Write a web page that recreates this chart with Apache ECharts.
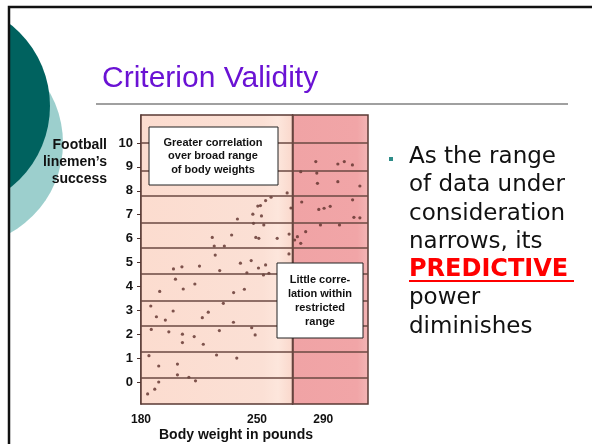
<!DOCTYPE html>
<html>
<head>
<meta charset="utf-8">
<script src="https://cdn.jsdelivr.net/npm/echarts@6/dist/echarts.min.js"></script>
<style>
html,body{margin:0;padding:0;background:#fff}
#main{width:592px;height:444px}
</style>
</head>
<body>
<div id="main"></div>
<script>
// body weight (lb) and linemen's success score
var weights = [
  184, 188.3, 190.7, 202, 208.9, 212.9, 190.7, 202, 184.8, 225.6, 237.8,
  186.2, 196.8, 205, 212.1, 205, 217.6, 227.3, 246.8, 248.9,
  185.9, 199.4, 220.6, 189.3, 194.7, 217, 235.8, 229.7,
  191.3, 205.5, 212.5, 235.9, 242.4, 200.8, 199.6, 204.7, 215.3, 227.5, 240, 243.9,
  224.8, 246.5, 224.2, 230.3, 223, 234.7, 238.2, 247.5, 250.5, 247.9, 249.3,
  252.1, 255.2, 258.5, 268.2, 270.5, 252.7, 254.1, 251.1, 262.2, 269.4, 269.3,
  255.2, 250.9, 253.9, 257.2,
  285.5, 298.8, 302.7, 307.6, 276.4, 286.1, 286.5, 298.8, 312.1, 277, 307.7,
  287.3, 290.5, 294.2, 308.5, 312.1, 288.3, 299.8, 279.4, 274.4, 276.4, 272.7
];
var success = [
  -0.5, -0.3, 0.0, 0.3, 0.2, 0.05, 0.67, 0.75, 1.1, 1.13, 1.0,
  2.2, 2.1, 2.0, 1.9, 1.65, 1.58, 2.15, 2.27, 1.97,
  3.18, 2.97, 2.92, 2.73, 2.59, 2.69, 2.5, 3.29,
  3.79, 3.89, 4.1, 3.74, 3.88, 4.3, 4.73, 4.82, 4.85, 4.66, 4.97, 4.57,
  5.31, 5.08, 5.69, 5.69, 6.05, 6.15, 6.82, 7.02, 7.36, 6.64, 6.05,
  7.38, 7.59, 7.73, 7.91, 7.28, 6.95, 6.57, 6.01, 6.01, 6.19, 5.36,
  4.9, 4.77, 4.48, 4.55,
  9.22, 9.12, 9.22, 9.08, 8.8, 8.74, 8.31, 8.38, 8.2, 7.53, 7.62,
  7.22, 7.27, 7.35, 6.89, 6.87, 6.57, 6.57, 6.29, 6.08, 5.8, 5.94
];
var yTicks = [0, 1, 2, 3, 4, 5, 6, 7, 8, 9, 10];
var xTicks = [180, 250, 290];
var bandLines = [10, 8.83, 7.78, 6.65, 5.61, 4.52, 3.39, 2.34, 1.26, 0.17];
var rangeCut = 271.5;
var bulletLines = ['As the range', 'of data under', 'consideration', 'narrows, its', 'PREDICTIVE', 'power', 'diminishes'];

var lab = '"Liberation Sans", Arial, sans-serif';
var pts = weights.map(function (w, i) { return [w, success[i]]; });

var lines = bandLines.map(function (v) { return { yAxis: v }; });
lines.push({ xAxis: rangeCut });

var graphics = [
  // slide decoration
  { type: 'circle', shape: { cx: -40, cy: 143, r: 103 }, style: { fill: '#9ccfcd' } },
  { type: 'circle', shape: { cx: -54, cy: 106, r: 104 }, style: { fill: '#00625f' } },
  { type: 'rect', shape: { x: 0, y: 0, width: 8, height: 444 }, style: { fill: '#fff' } },
  { type: 'rect', shape: { x: 0, y: 0, width: 592, height: 6 }, style: { fill: '#fff' } },
  { type: 'polyline', shape: { points: [[9, 444], [9, 7], [592, 7]] }, style: { stroke: '#111', lineWidth: 2.5, fill: null } },
  { type: 'text', x: 102, y: 79, style: { text: 'Criterion Validity', font: '30px ' + lab, fill: '#6a12d4', verticalAlign: 'middle' } },
  { type: 'line', shape: { x1: 96, y1: 104, x2: 568, y2: 104 }, style: { stroke: '#808080', lineWidth: 1.5 } },
  // axis titles
  { type: 'text', x: 107, y: 162, style: { text: 'Football\nlinemen\u2019s\nsuccess', font: 'bold 14px ' + lab, fill: '#111', align: 'right', verticalAlign: 'middle', lineHeight: 17 } },
  { type: 'text', x: 236, y: 435, style: { text: 'Body weight in pounds', font: 'bold 14px ' + lab, fill: '#111', align: 'center', verticalAlign: 'middle' } },
  // annotation boxes
  { type: 'rect', z: 100, shape: { x: 149, y: 127, width: 129, height: 58 }, style: { fill: '#fff', stroke: '#222', lineWidth: 1 } },
  { type: 'text', z: 101, x: 213, y: 156, style: { text: 'Greater correlation\nover broad range\nof body weights', font: 'bold 11px ' + lab, fill: '#111', align: 'center', verticalAlign: 'middle', lineHeight: 13.5 } },
  { type: 'rect', z: 100, shape: { x: 277, y: 263, width: 86, height: 75 }, style: { fill: '#fff', stroke: '#222', lineWidth: 1 } },
  { type: 'text', z: 101, x: 320, y: 301, style: { text: 'Little corre-\nlation within\nrestricted\nrange', font: 'bold 11px ' + lab, fill: '#111', align: 'center', verticalAlign: 'middle', lineHeight: 13.7 } },
  // bullet
  { type: 'rect', shape: { x: 389, y: 157, width: 4, height: 4 }, style: { fill: '#2d8c88' } }
];
bulletLines.forEach(function (t, i) {
  var hot = t === 'PREDICTIVE';
  graphics.push({
    type: 'text', x: 409, y: 157 + i * 28.3,
    style: { text: t, font: (hot ? 'bold 24px ' : '23px ') + '"DejaVu Sans", Verdana, sans-serif', fill: hot ? '#ff0000' : '#111', verticalAlign: 'middle' }
  });
  if (hot) {
    graphics.push({ type: 'line', shape: { x1: 409, y1: 281, x2: 574, y2: 281 }, style: { stroke: '#ff0000', lineWidth: 2 } });
  }
});

var myChart = echarts.init(document.getElementById('main'), null, { renderer: 'canvas' });
var option = {
  animation: false,
  backgroundColor: '#fff',
  grid: { left: 141, top: 115, width: 227, height: 289 },
  xAxis: {
    type: 'value', min: 180, max: 317,
    axisLine: { show: false },
    axisTick: { show: false },
    splitLine: { show: false },
    axisLabel: { customValues: xTicks, color: '#111', fontWeight: 'bold', fontSize: 12, fontFamily: 'Liberation Sans', margin: 10 }
  },
  yAxis: {
    type: 'value', min: -0.92, max: 11.17,
    axisLine: { show: true, lineStyle: { color: '#4a302c', width: 1.5 } },
    axisTick: { show: true, customValues: yTicks, length: 4, lineStyle: { color: '#4a302c' } },
    splitLine: { show: false },
    axisLabel: { customValues: yTicks, color: '#111', fontWeight: 'bold', fontSize: 13, fontFamily: 'Liberation Sans', margin: 8 }
  },
  graphic: graphics,
  series: [{
    type: 'scatter',
    data: pts,
    symbol: 'circle',
    symbolSize: 3.2,
    itemStyle: { color: '#5e302b' },
    silent: true,
    markArea: {
      silent: true,
      data: [
        [{ xAxis: 180, itemStyle: { color: new echarts.graphic.LinearGradient(0, 0, 1, 0, [
            { offset: 0, color: '#fcdccf' }, { offset: 0.8, color: '#fbe0d5' }, { offset: 0.9, color: '#fde6dc' }, { offset: 1, color: '#fad7cb' }]),
            borderColor: '#5a3a35', borderWidth: 1.5 } }, { xAxis: rangeCut }],
        [{ xAxis: rangeCut, itemStyle: { color: new echarts.graphic.LinearGradient(0, 0, 1, 0, [
            { offset: 0, color: '#f0a3a5' }, { offset: 0.85, color: '#f1a5a7' }, { offset: 1, color: '#f4b6b6' }]),
            borderColor: '#5a3a35', borderWidth: 1.5 } }, { xAxis: 317 }]
      ]
    },
    markLine: {
      silent: true,
      symbol: ['none', 'none'],
      label: { show: false },
      lineStyle: { color: '#6b4842', type: 'solid', width: 1.5 },
      data: lines
    }
  }]
};
myChart.setOption(option);
</script>
</body>
</html>
